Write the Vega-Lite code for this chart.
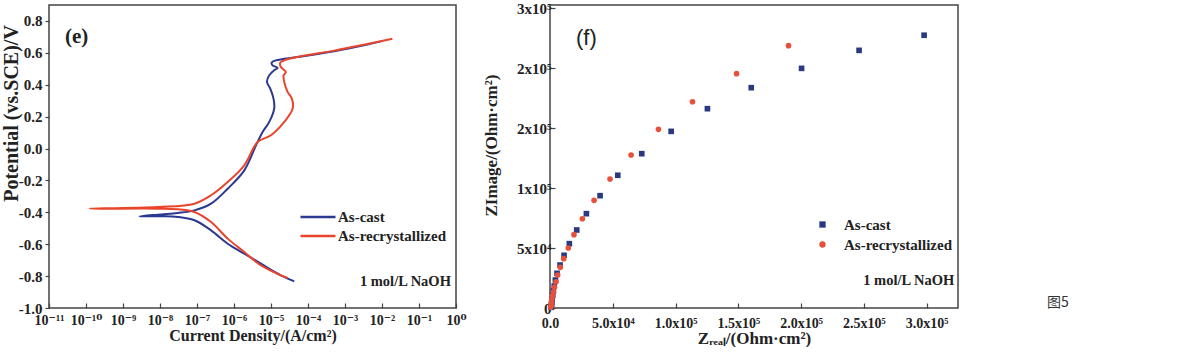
{
  "$schema": "https://vega.github.io/schema/vega-lite/v6.json",
  "background": "white",
  "padding": {"left": 0, "top": 0, "right": 0, "bottom": 0},
  "bounds": "flush",
  "spacing": 94,
  "config": {
    "font": "Liberation Serif",
    "view": {"stroke": "#444", "strokeWidth": 1.5},
    "axis": {
      "domain": false, "grid": false, "labelOverlap": false, "labelFlush": false,
      "labelFont": "Liberation Serif, DejaVu Serif", "labelFontWeight": "bold", "labelFontSize": 14, "labelColor": "#222",
      "titleFont": "Liberation Serif", "titleFontWeight": "bold", "titleFontSize": 16, "titleColor": "#222",
      "tickColor": "#444", "tickWidth": 1.2
    }
  },
  "datasets": {
    "tafel": [
      {"sample": "As-cast", "i": 1, "current": 4.25e-5, "potential": -0.833},
      {"sample": "As-cast", "i": 2, "current": 1.85e-5, "potential": -0.795},
      {"sample": "As-cast", "i": 3, "current": 5.35e-6, "potential": -0.722},
      {"sample": "As-cast", "i": 4, "current": 1.90e-6, "potential": -0.659},
      {"sample": "As-cast", "i": 5, "current": 6.75e-7, "potential": -0.597},
      {"sample": "As-cast", "i": 6, "current": 2.40e-7, "potential": -0.513},
      {"sample": "As-cast", "i": 7, "current": 8.51e-8, "potential": -0.450},
      {"sample": "As-cast", "i": 8, "current": 3.02e-8, "potential": -0.429},
      {"sample": "As-cast", "i": 9, "current": 1.07e-8, "potential": -0.425},
      {"sample": "As-cast", "i": 10, "current": 2.79e-9, "potential": -0.425},
      {"sample": "As-cast", "i": 11, "current": 1.07e-8, "potential": -0.413},
      {"sample": "As-cast", "i": 12, "current": 3.02e-8, "potential": -0.404},
      {"sample": "As-cast", "i": 13, "current": 8.51e-8, "potential": -0.388},
      {"sample": "As-cast", "i": 14, "current": 2.40e-7, "potential": -0.346},
      {"sample": "As-cast", "i": 15, "current": 6.75e-7, "potential": -0.252},
      {"sample": "As-cast", "i": 16, "current": 1.90e-6, "potential": -0.137},
      {"sample": "As-cast", "i": 17, "current": 3.93e-6, "potential": 0.020},
      {"sample": "As-cast", "i": 18, "current": 5.93e-6, "potential": 0.104},
      {"sample": "As-cast", "i": 19, "current": 8.97e-6, "potential": 0.167},
      {"sample": "As-cast", "i": 20, "current": 1.22e-5, "potential": 0.250},
      {"sample": "As-cast", "i": 21, "current": 1.17e-5, "potential": 0.313},
      {"sample": "As-cast", "i": 22, "current": 9.55e-6, "potential": 0.376},
      {"sample": "As-cast", "i": 23, "current": 7.76e-6, "potential": 0.417},
      {"sample": "As-cast", "i": 24, "current": 8.97e-6, "potential": 0.459},
      {"sample": "As-cast", "i": 25, "current": 1.22e-5, "potential": 0.491},
      {"sample": "As-cast", "i": 26, "current": 1.51e-5, "potential": 0.505},
      {"sample": "As-cast", "i": 27, "current": 1.10e-5, "potential": 0.522},
      {"sample": "As-cast", "i": 28, "current": 1.04e-5, "potential": 0.539},
      {"sample": "As-cast", "i": 29, "current": 1.36e-5, "potential": 0.553},
      {"sample": "As-cast", "i": 30, "current": 5.22e-5, "potential": 0.574},
      {"sample": "As-cast", "i": 31, "current": 5.09e-4, "potential": 0.610},
      {"sample": "As-cast", "i": 32, "current": 4.04e-3, "potential": 0.652},
      {"sample": "As-cast", "i": 33, "current": 9.25e-3, "potential": 0.672},
      {"sample": "As-recrystallized", "i": 1, "current": 2.81e-5, "potential": -0.812},
      {"sample": "As-recrystallized", "i": 2, "current": 1.85e-5, "potential": -0.795},
      {"sample": "As-recrystallized", "i": 3, "current": 5.35e-6, "potential": -0.733},
      {"sample": "As-recrystallized", "i": 4, "current": 1.90e-6, "potential": -0.649},
      {"sample": "As-recrystallized", "i": 5, "current": 6.75e-7, "potential": -0.565},
      {"sample": "As-recrystallized", "i": 6, "current": 2.40e-7, "potential": -0.461},
      {"sample": "As-recrystallized", "i": 7, "current": 8.51e-8, "potential": -0.398},
      {"sample": "As-recrystallized", "i": 8, "current": 3.02e-8, "potential": -0.381},
      {"sample": "As-recrystallized", "i": 9, "current": 8.73e-9, "potential": -0.377},
      {"sample": "As-recrystallized", "i": 10, "current": 1.25e-10, "potential": -0.377},
      {"sample": "As-recrystallized", "i": 11, "current": 8.73e-9, "potential": -0.367},
      {"sample": "As-recrystallized", "i": 12, "current": 8.51e-8, "potential": -0.346},
      {"sample": "As-recrystallized", "i": 13, "current": 2.40e-7, "potential": -0.293},
      {"sample": "As-recrystallized", "i": 14, "current": 6.75e-7, "potential": -0.210},
      {"sample": "As-recrystallized", "i": 15, "current": 1.90e-6, "potential": -0.105},
      {"sample": "As-recrystallized", "i": 16, "current": 4.35e-6, "potential": 0.041},
      {"sample": "As-recrystallized", "i": 17, "current": 9.95e-6, "potential": 0.083},
      {"sample": "As-recrystallized", "i": 18, "current": 2.28e-5, "potential": 0.167},
      {"sample": "As-recrystallized", "i": 19, "current": 3.83e-5, "potential": 0.250},
      {"sample": "As-recrystallized", "i": 20, "current": 3.67e-5, "potential": 0.313},
      {"sample": "As-recrystallized", "i": 21, "current": 2.81e-5, "potential": 0.355},
      {"sample": "As-recrystallized", "i": 22, "current": 2.28e-5, "potential": 0.417},
      {"sample": "As-recrystallized", "i": 23, "current": 2.19e-5, "potential": 0.459},
      {"sample": "As-recrystallized", "i": 24, "current": 2.53e-5, "potential": 0.480},
      {"sample": "As-recrystallized", "i": 25, "current": 1.85e-5, "potential": 0.511},
      {"sample": "As-recrystallized", "i": 26, "current": 1.78e-5, "potential": 0.539},
      {"sample": "As-recrystallized", "i": 27, "current": 2.28e-5, "potential": 0.553},
      {"sample": "As-recrystallized", "i": 28, "current": 6.43e-5, "potential": 0.578},
      {"sample": "As-recrystallized", "i": 29, "current": 5.09e-4, "potential": 0.614},
      {"sample": "As-recrystallized", "i": 30, "current": 4.04e-3, "potential": 0.656},
      {"sample": "As-recrystallized", "i": 31, "current": 1.91e-2, "potential": 0.689}
    ],
    "nyquist": [
      {"sample": "As-cast", "zreal": 298000, "zimag": 227300},
      {"sample": "As-cast", "zreal": 246200, "zimag": 214700},
      {"sample": "As-cast", "zreal": 200400, "zimag": 199700},
      {"sample": "As-cast", "zreal": 160300, "zimag": 183600},
      {"sample": "As-cast", "zreal": 125400, "zimag": 166100},
      {"sample": "As-cast", "zreal": 96500, "zimag": 147200},
      {"sample": "As-cast", "zreal": 73100, "zimag": 128600},
      {"sample": "As-cast", "zreal": 54000, "zimag": 110600},
      {"sample": "As-cast", "zreal": 39900, "zimag": 93600},
      {"sample": "As-cast", "zreal": 29000, "zimag": 78600},
      {"sample": "As-cast", "zreal": 21300, "zimag": 65000},
      {"sample": "As-cast", "zreal": 15400, "zimag": 53600},
      {"sample": "As-cast", "zreal": 11200, "zimag": 43900},
      {"sample": "As-cast", "zreal": 8000, "zimag": 35800},
      {"sample": "As-cast", "zreal": 5600, "zimag": 28900},
      {"sample": "As-cast", "zreal": 4300, "zimag": 23300},
      {"sample": "As-cast", "zreal": 3400, "zimag": 18300},
      {"sample": "As-cast", "zreal": 2700, "zimag": 14200},
      {"sample": "As-cast", "zreal": 2200, "zimag": 10600},
      {"sample": "As-cast", "zreal": 1700, "zimag": 7500},
      {"sample": "As-cast", "zreal": 1500, "zimag": 5000},
      {"sample": "As-cast", "zreal": 1200, "zimag": 3100},
      {"sample": "As-cast", "zreal": 1100, "zimag": 1700},
      {"sample": "As-cast", "zreal": 1000, "zimag": 600},
      {"sample": "As-recrystallized", "zreal": 190000, "zimag": 218600},
      {"sample": "As-recrystallized", "zreal": 148600, "zimag": 195300},
      {"sample": "As-recrystallized", "zreal": 113500, "zimag": 171900},
      {"sample": "As-recrystallized", "zreal": 86400, "zimag": 148900},
      {"sample": "As-recrystallized", "zreal": 64600, "zimag": 127500},
      {"sample": "As-recrystallized", "zreal": 47800, "zimag": 107500},
      {"sample": "As-recrystallized", "zreal": 35100, "zimag": 89700},
      {"sample": "As-recrystallized", "zreal": 25800, "zimag": 74400},
      {"sample": "As-recrystallized", "zreal": 19100, "zimag": 61100},
      {"sample": "As-recrystallized", "zreal": 14600, "zimag": 50000},
      {"sample": "As-recrystallized", "zreal": 10900, "zimag": 41100},
      {"sample": "As-recrystallized", "zreal": 8200, "zimag": 33900},
      {"sample": "As-recrystallized", "zreal": 6100, "zimag": 27500},
      {"sample": "As-recrystallized", "zreal": 4800, "zimag": 21900},
      {"sample": "As-recrystallized", "zreal": 3500, "zimag": 17200},
      {"sample": "As-recrystallized", "zreal": 2700, "zimag": 13300},
      {"sample": "As-recrystallized", "zreal": 1900, "zimag": 10000},
      {"sample": "As-recrystallized", "zreal": 1400, "zimag": 7200},
      {"sample": "As-recrystallized", "zreal": 1200, "zimag": 5000},
      {"sample": "As-recrystallized", "zreal": 1000, "zimag": 3300},
      {"sample": "As-recrystallized", "zreal": 800, "zimag": 1700},
      {"sample": "As-recrystallized", "zreal": 500, "zimag": 600}
    ]
  },
  "resolve": {
    "scale": {"color": "independent", "shape": "independent", "x": "independent", "y": "independent"},
    "legend": {"color": "independent", "shape": "independent"}
  },
  "hconcat": [
    {
      "width": 407,
      "height": 303,
      "layer": [
        {
          "data": {"name": "tafel"},
          "mark": {"type": "line", "strokeWidth": 2, "interpolate": "catmull-rom"},
          "encoding": {
            "x": {
              "field": "current", "type": "quantitative",
              "scale": {"type": "log", "domain": [1e-11, 1], "nice": false},
              "axis": {
                "values": [1e-11, 1e-10, 1e-9, 1e-8, 1e-7, 1e-6, 1e-5, 1e-4, 1e-3, 1e-2, 1e-1, 1],
                "tickCount": 12,
                "labelExpr": "['10⁻¹¹','10⁻¹⁰','10⁻⁹','10⁻⁸','10⁻⁷','10⁻⁶','10⁻⁵','10⁻⁴','10⁻³','10⁻²','10⁻¹','10⁰'][round(log(datum.value)/LN10)+11]",
                "labelOverlap": false,
                "title": "Current Density/(A/cm²)",
                "tickSize": -5, "labelPadding": 10, "titlePadding": 0
              }
            },
            "y": {
              "field": "potential", "type": "quantitative",
              "scale": {"domain": [-1.0, 0.9], "nice": false, "zero": false},
              "axis": {
                "values": [-1.0, -0.8, -0.6, -0.4, -0.2, 0, 0.2, 0.4, 0.6, 0.8],
                "tickCount": 12,
                "labelExpr": "replace(format(datum.value, '.1f'), '−', '-')",
                "labelOverlap": false,
                "labelFontSize": 15,
                "title": "Potential (vs.SCE)/V", "titleFontSize": 20,
                "titleX": -28, "titleY": 108,
                "tickSize": 4, "labelPadding": 3
              }
            },
            "color": {
              "field": "sample", "type": "nominal",
              "scale": {"domain": ["As-cast", "As-recrystallized"], "range": ["#2b3990", "#e8452c"]},
              "legend": {
                "orient": "none", "legendX": 258, "legendY": 201, "title": null,
                "symbolType": "M-1.84,0H1.84", "symbolSize": 361, "symbolStrokeWidth": 2.5,
                "labelOffset": 9,
                "labelFont": "Liberation Serif", "labelFontWeight": "bold", "labelFontSize": 15, "labelColor": "#222",
                "rowPadding": 0
              }
            },
            "order": {"field": "i", "type": "quantitative"}
          }
        },
        {
          "data": {"values": [{"label": "(e)", "current": 2.7e-11, "potential": 0.697}]},
          "mark": {"type": "text", "align": "left", "baseline": "middle", "font": "Liberation Serif", "fontWeight": "bold", "fontSize": 21, "color": "#222"},
          "encoding": {
            "x": {"field": "current", "type": "quantitative"},
            "y": {"field": "potential", "type": "quantitative"},
            "text": {"field": "label"}
          }
        },
        {
          "data": {"values": [{"label": "1 mol/L NaOH", "current": 0.73, "potential": -0.837}]},
          "mark": {"type": "text", "align": "right", "baseline": "middle", "font": "Liberation Serif", "fontWeight": "bold", "fontSize": 14.5, "color": "#222"},
          "encoding": {
            "x": {"field": "current", "type": "quantitative"},
            "y": {"field": "potential", "type": "quantitative"},
            "text": {"field": "label"}
          }
        }
      ]
    },
    {
      "width": 408,
      "height": 303,
      "layer": [
        {
          "data": {"name": "nyquist"},
          "mark": {"type": "point", "filled": true, "opacity": 1, "size": 32},
          "encoding": {
            "x": {
              "field": "zreal", "type": "quantitative",
              "scale": {"domain": [0, 325000], "nice": false, "zero": false},
              "axis": {
                "values": [0, 50000, 100000, 150000, 200000, 250000, 300000],
                "tickCount": 12,
                "labelExpr": "['0.0','5.0x10⁴','1.0x10⁵','1.5x10⁵','2.0x10⁵','2.5x10⁵','3.0x10⁵'][round(datum.value/50000)]",
                "title": "Zᵣₑₐₗ/(Ohm·cm²)", "titleFontSize": 17,
                "tickSize": -5, "labelPadding": 13, "titlePadding": 0
              }
            },
            "y": {
              "field": "zimag", "type": "quantitative",
              "scale": {"domain": [0, 252500], "nice": false, "zero": false},
              "axis": {
                "values": [0, 50000, 100000, 150000, 200000, 250000],
                "tickCount": 12,
                "labelExpr": "['0','5x10⁴','1x10⁵','2x10⁵','2x10⁵','3x10⁵'][round(datum.value/50000)]",
                "labelOverlap": false,
                "labelFontSize": 15,
                "title": "ZImage/(Ohm·cm²)", "titleFontSize": 17,
                "titleX": -50, "titleY": 140,
                "tickSize": -5, "labelPadding": 4
              }
            },
            "color": {
              "field": "sample", "type": "nominal",
              "scale": {"domain": ["As-cast", "As-recrystallized"], "range": ["#2b3a80", "#e5513b"]},
              "legend": {
                "orient": "none", "legendX": 265, "legendY": 212, "title": null,
                "symbolSize": 40, "labelOffset": 14,
                "labelFont": "Liberation Serif", "labelFontWeight": "bold", "labelFontSize": 15, "labelColor": "#222",
                "rowPadding": 4
              }
            },
            "shape": {
              "field": "sample", "type": "nominal",
              "scale": {"domain": ["As-cast", "As-recrystallized"], "range": ["square", "circle"]},
              "legend": {
                "orient": "none", "legendX": 265, "legendY": 212, "title": null,
                "symbolSize": 40, "labelOffset": 14,
                "labelFont": "Liberation Serif", "labelFontWeight": "bold", "labelFontSize": 15, "labelColor": "#222",
                "rowPadding": 4
              }
            }
          }
        },
        {
          "data": {"values": [{"label": "(f)", "zreal": 20700, "zimag": 225000}]},
          "mark": {"type": "text", "align": "left", "baseline": "middle", "font": "Liberation Sans", "fontSize": 22, "color": "#222"},
          "encoding": {
            "x": {"field": "zreal", "type": "quantitative"},
            "y": {"field": "zimag", "type": "quantitative"},
            "text": {"field": "label"}
          }
        },
        {
          "data": {"values": [{"label": "1 mol/L NaOH", "zreal": 322000, "zimag": 22500}]},
          "mark": {"type": "text", "align": "right", "baseline": "middle", "font": "Liberation Serif", "fontWeight": "bold", "fontSize": 14.5, "color": "#222"},
          "encoding": {
            "x": {"field": "zreal", "type": "quantitative"},
            "y": {"field": "zimag", "type": "quantitative"},
            "text": {"field": "label"}
          }
        }
      ]
    },
    {
      "width": 20,
      "height": 303,
      "view": {"stroke": null},
      "data": {"values": [{"label": "图5", "px": 0.3, "py": 0.015}]},
      "mark": {"type": "text", "align": "center", "baseline": "middle", "font": "Noto Sans CJK SC", "fontSize": 14, "color": "#333"},
      "encoding": {
        "x": {"field": "px", "type": "quantitative", "scale": {"domain": [0, 1]}, "axis": null},
        "y": {"field": "py", "type": "quantitative", "scale": {"domain": [0, 1]}, "axis": null},
        "text": {"field": "label"}
      }
    }
  ]
}
